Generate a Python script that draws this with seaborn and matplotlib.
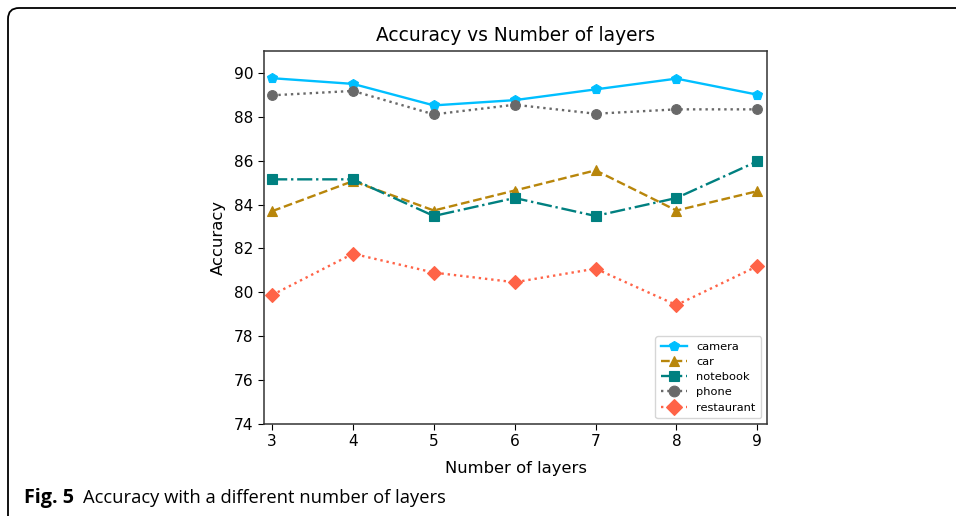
import matplotlib
matplotlib.use("Agg")
import matplotlib.pyplot as plt
import seaborn as sns
import pandas as pd
from matplotlib.patches import FancyBboxPatch

layers = [3, 4, 5, 6, 7, 8, 9]
camera = [89.76, 89.50, 88.52, 88.76, 89.25, 89.74, 89.01]
car = [83.70, 85.07, 83.73, 84.64, 85.56, 83.73, 84.61]
notebook = [85.15, 85.15, 83.48, 84.30, 83.48, 84.30, 85.97]
phone = [88.98, 89.18, 88.11, 88.55, 88.14, 88.34, 88.34]
restaurant = [79.88, 81.76, 80.90, 80.46, 81.08, 79.42, 81.19]

series = {"camera": camera, "car": car, "notebook": notebook,
          "phone": phone, "restaurant": restaurant}
styles = {
    "camera": dict(color="#00BFFF", marker="p", linestyle="-"),
    "car": dict(color="#B8860B", marker="^", linestyle="--"),
    "notebook": dict(color="#008080", marker="s", linestyle="-."),
    "phone": dict(color="#696969", marker="o", linestyle=":"),
    "restaurant": dict(color="#FF6347", marker="D", linestyle=":"),
}

df = pd.concat([pd.DataFrame({"layers": layers, "acc": v, "cat": k})
                for k, v in series.items()], ignore_index=True)

fig = plt.figure(figsize=(9.56, 5.16), dpi=100)
ax = fig.add_axes([0.2762, 0.1783, 0.5261, 0.7229])

for name in series:
    sub = df[df["cat"] == name]
    st = styles[name]
    sns.lineplot(data=sub, x="layers", y="acc", ax=ax, label=name,
                 color=st["color"], marker=st["marker"], linestyle=st["linestyle"],
                 markersize=7, linewidth=1.7, markeredgewidth=0.8,
                 markeredgecolor=st["color"])

ax.set_xlim(2.9, 9.12)
ax.set_ylim(74, 91)
ax.set_yticks([74, 76, 78, 80, 82, 84, 86, 88, 90])
ax.set_xticks(layers)
ax.tick_params(labelsize=11.1, length=4)
ax.set_title("Accuracy vs Number of layers", fontsize=13.4, pad=7)
ax.set_xlabel("Number of layers", fontsize=11.8, labelpad=8)
ax.set_ylabel("Accuracy", fontsize=11.8, labelpad=6)
for s in ax.spines.values():
    s.set_color("#333333")
    s.set_linewidth(1.1)
leg = ax.legend(loc="lower right", fontsize=8.2, handlelength=2.3, borderpad=0.5,
                labelspacing=0.45, markerscale=1.1)

# frame (in inches)
box = FancyBboxPatch((0.08, -0.3), 10.0, 5.16 - 0.08 + 0.3 - 0.0,
                     boxstyle="round,pad=0,rounding_size=0.11",
                     transform=fig.dpi_scale_trans, fill=False, edgecolor="black",
                     linewidth=1.3, clip_on=False)
fig.patches.append(box)

fig.text(24 / 956, 1 - 498 / 516, "Fig. 5", fontsize=14.2, fontweight="bold",
         family="Open Sans", va="center", ha="left")
fig.text(83 / 956, 1 - 498 / 516, "Accuracy with a different number of layers",
         fontsize=13.2, family="Open Sans", va="center", ha="left")

fig.savefig("out.png", dpi=100)
